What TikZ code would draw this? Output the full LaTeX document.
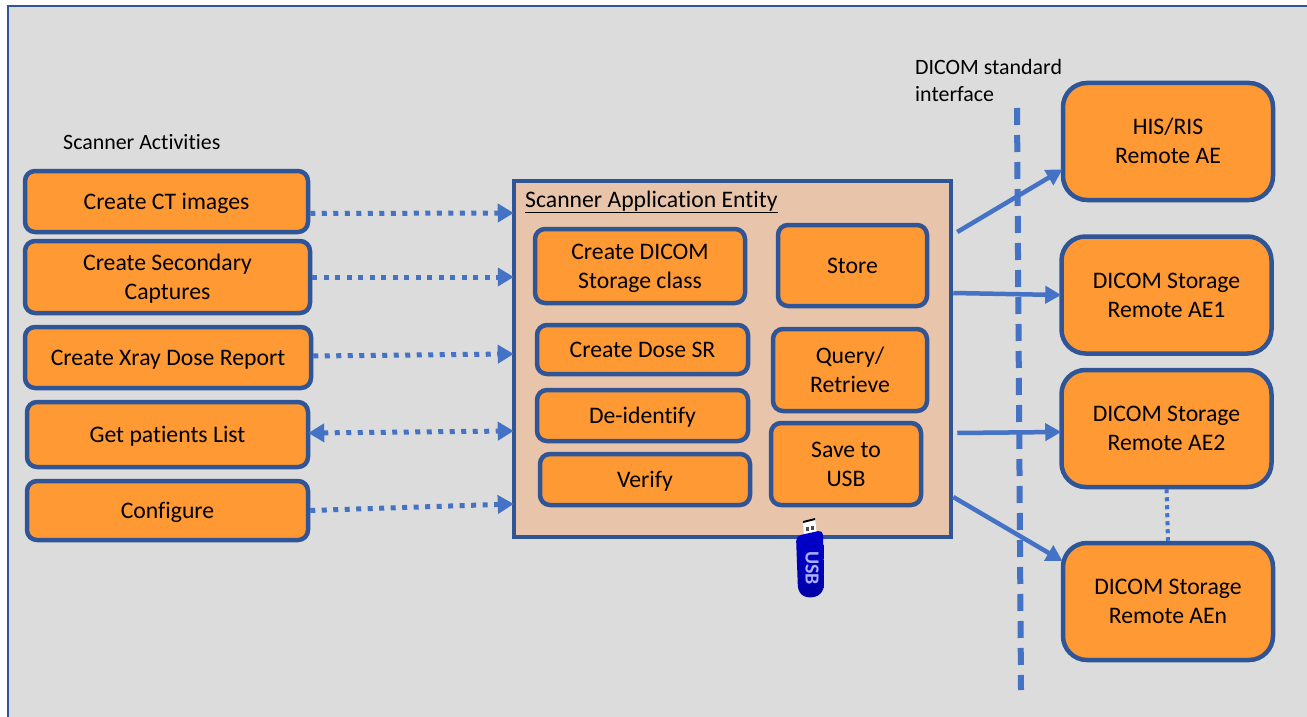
\documentclass[tikz,border=0pt]{standalone}
\usepackage{fontspec}
\setmainfont[Ligatures=NoCommon]{Carlito}
\usetikzlibrary{arrows.meta}
\definecolor{panelgrey}{HTML}{DCDCDC}
\definecolor{boxorange}{HTML}{FF9933}
\definecolor{boxblue}{HTML}{2F5597}
\definecolor{linkblue}{HTML}{4472C4}
\definecolor{entityfill}{HTML}{E8C4AA}
\tikzset{
    actbox/.style={draw=boxblue, line width=4.5pt, fill=boxorange, rounded corners=10pt, align=center, inner sep=0pt, text height=20pt, text depth=5pt, font=\fontsize{23.7}{29}\selectfont},
    twolines/.style={text height=49pt, text depth=5pt},
    remotebox/.style={actbox, twolines, rounded corners=24pt, minimum width=210pt, minimum height=117pt},
    label/.style={inner sep=0pt, anchor=base west, font=\fontsize{21.9}{27}\selectfont},
    dotlink/.style={draw=linkblue, line width=5pt, dash pattern=on 5pt off 6.5pt, shorten >=-2pt, -{Triangle[length=16pt,width=18pt]}},
    solidlink/.style={draw=linkblue, line width=4.5pt, shorten >=-2pt, -{Triangle[length=16pt,width=17pt]}},
}
\begin{document}
\begin{tikzpicture}[x=1pt,y=-1pt]
        \useasboundingbox (0,0) rectangle (1307,717);
        \fill[white] (0,0) rectangle (1307,717);
        \clip (0,0) rectangle (1307,717);
        \draw[boxblue, line width=2pt, fill=panelgrey] (8,6) rectangle (1315,725);
        % scanner activities
        \node [label] (acts) at (63,149.5) {Scanner Activities};
        \node [actbox, minimum width=283pt, minimum height=61pt] (ct) at (166.5,201.5) {Create CT images};
        \node [actbox, twolines, minimum width=285pt, minimum height=72pt] (sec) at (167.5,277) {Create Secondary\\Captures};
        \node [actbox, minimum width=286pt, minimum height=61pt] (dose) at (168,357.5) {Create Xray Dose Report};
        \node [actbox, minimum width=281pt, minimum height=65pt] (pat) at (167.5,434.5) {Get patients List};
        \node [actbox, minimum width=281pt, minimum height=59pt] (conf) at (167.5,510.5) {Configure};
        % application entity
        \node [draw=boxblue, line width=4.5pt, fill=entityfill, minimum width=437pt, minimum height=356pt] (main) at (732.5,359) {};
        \node [label, font=\fontsize{23.7}{29}\selectfont] (title) at (525,207) {\underline{Scanner Application Entity}};
        \node [actbox, twolines, minimum width=210pt, minimum height=74pt] (cds) at (640,266) {Create DICOM\\Storage class};
        \node [actbox, minimum width=149pt, minimum height=81pt] (store) at (852.5,265.5) {Store};
        \node [actbox, minimum width=211pt, minimum height=49pt] (dsr) at (642.5,349.5) {Create Dose SR};
        \node [actbox, twolines, minimum width=154pt, minimum height=82pt] (qr) at (850,370) {Query/\\Retrieve};
        \node [actbox, minimum width=211pt, minimum height=51pt] (deid) at (642.5,415.5) {De-identify};
        \node [actbox, twolines, minimum width=150pt, minimum height=82pt] (usb) at (846,464) {Save to\\USB};
        \node [actbox, minimum width=210pt, minimum height=51pt] (verify) at (645,479.5) {Verify};
        % usb stick
        \fill[white] (803,521) -- (815,518) -- (817,536) -- (804,538) -- cycle;
        \fill[black] (803,521) -- (815,518) -- (815,520) -- (803,523) -- cycle;
        \fill[black!70] (806,527) rectangle (809,531);
        \fill[black!70] (811,526) rectangle (814,530);
        \shade[top color=blue!80!black, bottom color=blue!65!black, rounded corners=5pt] (796,536) -- (823,530) -- (824,590) .. controls (815,599) and (805,598) .. (798,591) -- cycle;
        \node [rotate=-90, text=white!68!blue, inner sep=0pt, font=\fontsize{20}{20}\selectfont\bfseries] (stick) at (812,568) {USB};
        % remote entities
        \node [remotebox] (his) at (1168,141.5) {HIS/RIS\\Remote AE};
        \node [remotebox] (ae1) at (1166.5,295) {DICOM Storage\\Remote AE1};
        \node [remotebox] (ae2) at (1166.5,428.5) {DICOM Storage\\Remote AE2};
        \node [remotebox] (aen) at (1168,601.5) {DICOM Storage\\Remote AEn};
        % interface line
        \node [label] (ifl) at (915,74.5) {DICOM standard};
        \node [label] (ifb) at (915,101) {interface};
        \coordinate (ifa) at (1017,108);
        \coordinate (ifz) at (1021,690);
        \draw [linkblue, line width=6pt, dash pattern=on 17pt off 10pt] (ifa) -- (ifz);
        % links
        \draw [dotlink] ([yshift=-12pt]ct.east) -- ([yshift=146pt]main.west);
        \draw [dotlink] (sec.east) -- ([yshift=82pt]main.west);
        \draw [dotlink] ([yshift=1.5pt]dose.east) -- ([yshift=5pt]main.west);
        \draw [dotlink, shorten <=-2pt, {Triangle[length=16pt,width=18pt]}-{Triangle[length=16pt,width=18pt]}] ([yshift=1.5pt]pat.east) -- ([yshift=-72pt]main.west);
        \draw [dotlink] (conf.east) -- ([yshift=-145pt]main.west);
        \draw [solidlink] ([xshift=4pt,yshift=127pt]main.east) -- ([yshift=-29pt]his.west);
        \draw [solidlink] ([yshift=66pt]main.east) -- (ae1.west);
        \draw [solidlink] ([xshift=4pt,yshift=-74pt]main.east) -- ([yshift=-3.5pt]ae2.west);
        \draw [solidlink] ([yshift=-138pt]main.east) -- ([yshift=41.5pt]aen.west);
        \draw [linkblue, line width=4pt, dash pattern=on 4pt off 4pt] (ae2.south) -- (aen.north);
    \end{tikzpicture}
\end{document}
